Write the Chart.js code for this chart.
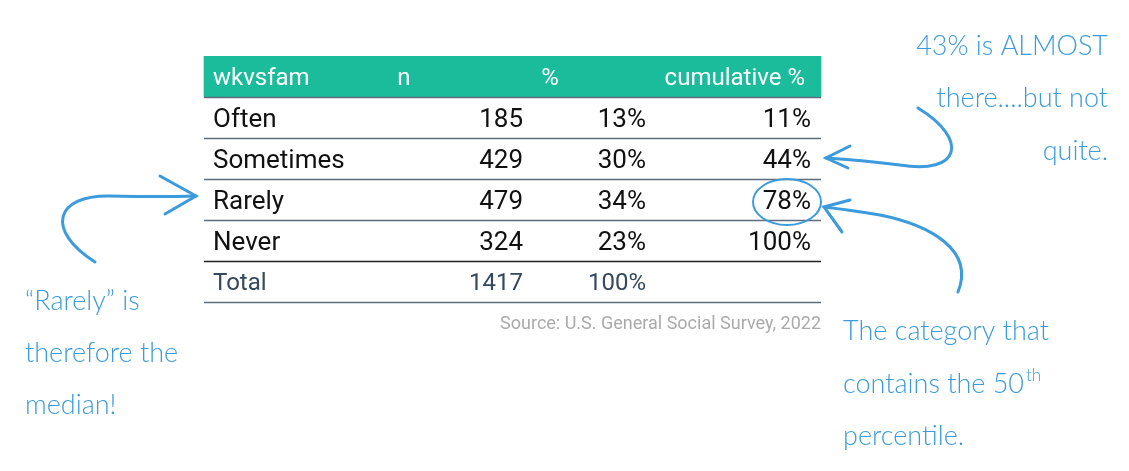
<!DOCTYPE html>
<html><head><meta charset="utf-8">
<script src="https://cdn.jsdelivr.net/npm/chart.js@4"></script>
<style>html,body{margin:0;background:#fff}#wrap{width:1129px;height:471px}</style>
</head><body><div id="wrap"><canvas id="c"></canvas></div>
<script>
const rows = ["header", "Often", "Sometimes", "Rarely", "Never", "Total"];
const headers = ["wkvsfam", "n", "%", "cumulative %"];
const categories = ["Often", "Sometimes", "Rarely", "Never"];
const counts = [185, 429, 479, 324];
const pcts = ["13%", "30%", "34%", "23%"];
const cumPcts = ["11%", "44%", "78%", "100%"];
const total = 1417;
const totalPct = "100%";
const source = "Source: U.S. General Social Survey, 2022";

const BLUE = "#3b9bdc";
const handFont = "300 27px Lato";

function arrowHead(ctx, x, y, a, b) {
  ctx.beginPath();
  ctx.moveTo(a[0], a[1]); ctx.lineTo(x, y); ctx.lineTo(b[0], b[1]);
  ctx.stroke();
}

const tablePlugin = {
  id: "table",
  afterDatasetsDraw(chart) {
    const ctx = chart.ctx, xs = chart.scales.x, ys = chart.scales.y;
    const left = xs.getPixelForValue(204), right = xs.getPixelForValue(821);
    const band = ys.getPixelForValue(1) - ys.getPixelForValue(0);
    ctx.save();
    ctx.textBaseline = "middle";
    // header
    const hy = ys.getPixelForValue(0) + 2;
    ctx.fillStyle = "#fff";
    ctx.font = "24px Roboto";
    ctx.textAlign = "left"; ctx.fillText(headers[0], xs.getPixelForValue(213), hy);
    ctx.textAlign = "center"; ctx.fillText(headers[1], xs.getPixelForValue(404), hy);
    ctx.fillText(headers[2], xs.getPixelForValue(550), hy);
    ctx.textAlign = "right"; ctx.fillText(headers[3], xs.getPixelForValue(805), hy);
    // body rows
    ctx.font = "26px Roboto";
    categories.forEach((c, i) => {
      const y = ys.getPixelForValue(i + 1) + 3;
      ctx.fillStyle = "#111";
      ctx.textAlign = "left"; ctx.fillText(c, xs.getPixelForValue(213), y);
      ctx.textAlign = "right";
      ctx.fillText(String(counts[i]), xs.getPixelForValue(523), y);
      ctx.fillText(pcts[i], xs.getPixelForValue(646), y);
      ctx.fillText(cumPcts[i], xs.getPixelForValue(811), y);
    });
    const ty = ys.getPixelForValue(5) + 2;
    ctx.fillStyle = "#34495e"; ctx.font = "24px Roboto";
    ctx.textAlign = "left"; ctx.fillText("Total", xs.getPixelForValue(213), ty);
    ctx.textAlign = "right";
    ctx.fillText(String(total), xs.getPixelForValue(523), ty);
    ctx.fillText(totalPct, xs.getPixelForValue(646), ty);
    // row lines
    for (let i = 0; i < rows.length; i++) {
      const y = Math.round(ys.getPixelForValue(i) + band / 2) + 0.5;
      ctx.strokeStyle = i === 4 ? "#222" : "#5d6d7e";
      ctx.lineWidth = 1.3;
      ctx.beginPath(); ctx.moveTo(left, y); ctx.lineTo(right, y); ctx.stroke();
    }
    ctx.fillStyle = "#aaa"; ctx.font = "18px Roboto"; ctx.textAlign = "right";
    ctx.fillText(source, right, ys.getPixelForValue(5) + band * 1.05);

    // annotations
    ctx.fillStyle = BLUE; ctx.strokeStyle = BLUE; ctx.lineWidth = 3; ctx.lineCap = "round";
    ctx.font = handFont; ctx.textBaseline = "alphabetic";
    ctx.textAlign = "right";
    ctx.fillText("43% is ALMOST", 1108, 55);
    ctx.fillText("there....but not", 1108, 107);
    ctx.fillText("quite.", 1108, 160);
    ctx.textAlign = "left";
    ctx.fillText("\u201cRarely\u201d is", 25, 310);
    ctx.fillText("therefore the", 25, 362);
    ctx.fillText("median!", 25, 414);
    ctx.fillText("The category that", 843, 340);
    ctx.fillText("contains the 50", 843, 393);
    const w = ctx.measureText("contains the 50").width;
    ctx.font = "300 17px Lato"; ctx.fillText("th", 845 + w, 381);
    ctx.font = handFont; ctx.fillText("percentile.", 843, 445);

    // circle round 78%
    ctx.lineWidth = 2;
    ctx.beginPath(); ctx.ellipse(787, 202, 34, 23, 0, 0, Math.PI * 2); ctx.stroke();
    ctx.lineWidth = 3;
    // top right arrow
    ctx.beginPath(); ctx.moveTo(918, 108);
    ctx.bezierCurveTo(970, 140, 960, 175, 900, 165);
    ctx.quadraticCurveTo(860, 160, 826, 158); ctx.stroke();
    arrowHead(ctx, 826, 158, [850, 146], [848, 168]);
    // left arrow
    ctx.beginPath(); ctx.moveTo(95, 262);
    ctx.bezierCurveTo(45, 230, 55, 195, 110, 196);
    ctx.quadraticCurveTo(160, 197, 196, 196); ctx.stroke();
    arrowHead(ctx, 196, 196, [160, 176], [165, 214]);
    // bottom right arrow
    ctx.beginPath(); ctx.moveTo(958, 292);
    ctx.bezierCurveTo(975, 250, 930, 225, 880, 215);
    ctx.quadraticCurveTo(850, 210, 824, 207); ctx.stroke();
    arrowHead(ctx, 824, 207, [850, 200], [842, 232]);
    ctx.restore();
  }
};

new Chart(document.getElementById("c"), {
  type: "bar",
  data: {
    labels: rows,
    datasets: [{
      data: rows.map((r, i) => (i === 0 ? [204, 821] : null)),
      backgroundColor: "#1abc9c",
      barPercentage: 1,
      categoryPercentage: 1,
    }],
  },
  options: {
    indexAxis: "y",
    responsive: true,
    maintainAspectRatio: false,
    animation: false,
    layout: { padding: { left: 0, right: 0, top: 56, bottom: 169 } },
    plugins: { legend: { display: false }, tooltip: { enabled: false } },
    scales: {
      x: { type: "linear", min: 0, max: 1129, display: false },
      y: { type: "category", display: false, offset: true },
    },
  },
  plugins: [tablePlugin],
});
</script></body></html>
